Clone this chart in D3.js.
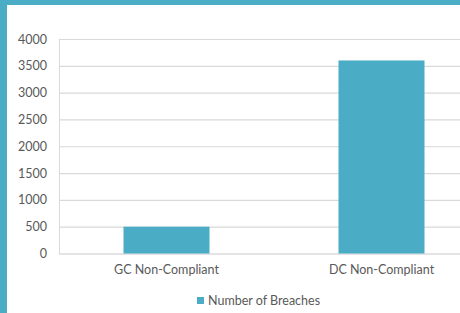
<!DOCTYPE html>
<html><head><meta charset="utf-8">
<script src="https://cdn.jsdelivr.net/npm/d3@7"></script>
<style>body{margin:0;background:#fff;overflow:hidden}svg{display:block}</style>
</head><body>
<svg id="c" width="460" height="313"></svg>
<script>
const categories = ["GC Non-Compliant", "DC Non-Compliant"];
const values = [500, 3600];
const seriesName = "Number of Breaches";
const yTicks = [0, 500, 1000, 1500, 2000, 2500, 3000, 3500, 4000];

const svg = d3.select("#c");
const W = 460, H = 313;
const teal = "#4BACC6", txt = "#595959", grid = "#d9d9d9";
const font = "Lato, 'Open Sans', sans-serif";
const fs = "12.5px";

svg.append("rect").attr("width", W).attr("height", H).attr("fill", teal);
svg.append("rect").attr("x", 7).attr("y", 5).attr("width", W - 7).attr("height", H - 5).attr("fill", "#fff");

const m = {l: 59, t: 39, b: 253.5};
const x = d3.scaleBand().domain(categories).range([m.l, m.l + 430]).paddingInner(0.6).paddingOuter(0.3);
const y = d3.scaleLinear().domain([0, 4000]).range([m.b, m.t]);

const g = svg.append("g");
const yAxis = d3.axisLeft(y).tickValues(yTicks).tickFormat(d3.format("d")).tickSize(-(W - m.l)).tickPadding(12);
const ya = g.append("g").attr("transform", `translate(${m.l},0)`).call(yAxis);
ya.select(".domain").attr("stroke", grid);
ya.selectAll(".tick line").attr("stroke", grid).attr("stroke-width", 1.2);
ya.selectAll(".tick text").attr("fill", txt).style("font-family", font).style("font-size", fs).attr("x", -12);

g.selectAll("rect.bar").data(values).join("rect").attr("class", "bar")
  .attr("x", (d, i) => x(categories[i])).attr("width", x.bandwidth())
  .attr("y", d => y(d)).attr("height", d => y(0) - y(d)).attr("fill", teal);

const xAxis = d3.axisBottom(x).tickSize(0).tickPadding(12);
const xa = g.append("g").attr("transform", `translate(0,${m.b})`).call(xAxis);
xa.select(".domain").remove();
xa.selectAll(".tick text").attr("fill", txt).style("font-family", font).style("font-size", fs);

const lg = svg.append("g").attr("transform", "translate(197,297)");
lg.append("rect").attr("width", 7).attr("height", 7).attr("fill", teal);
lg.append("text").attr("x", 11).attr("y", 7.5).attr("fill", txt).style("font-family", font).style("font-size", fs).text(seriesName);
</script>
</body></html>
